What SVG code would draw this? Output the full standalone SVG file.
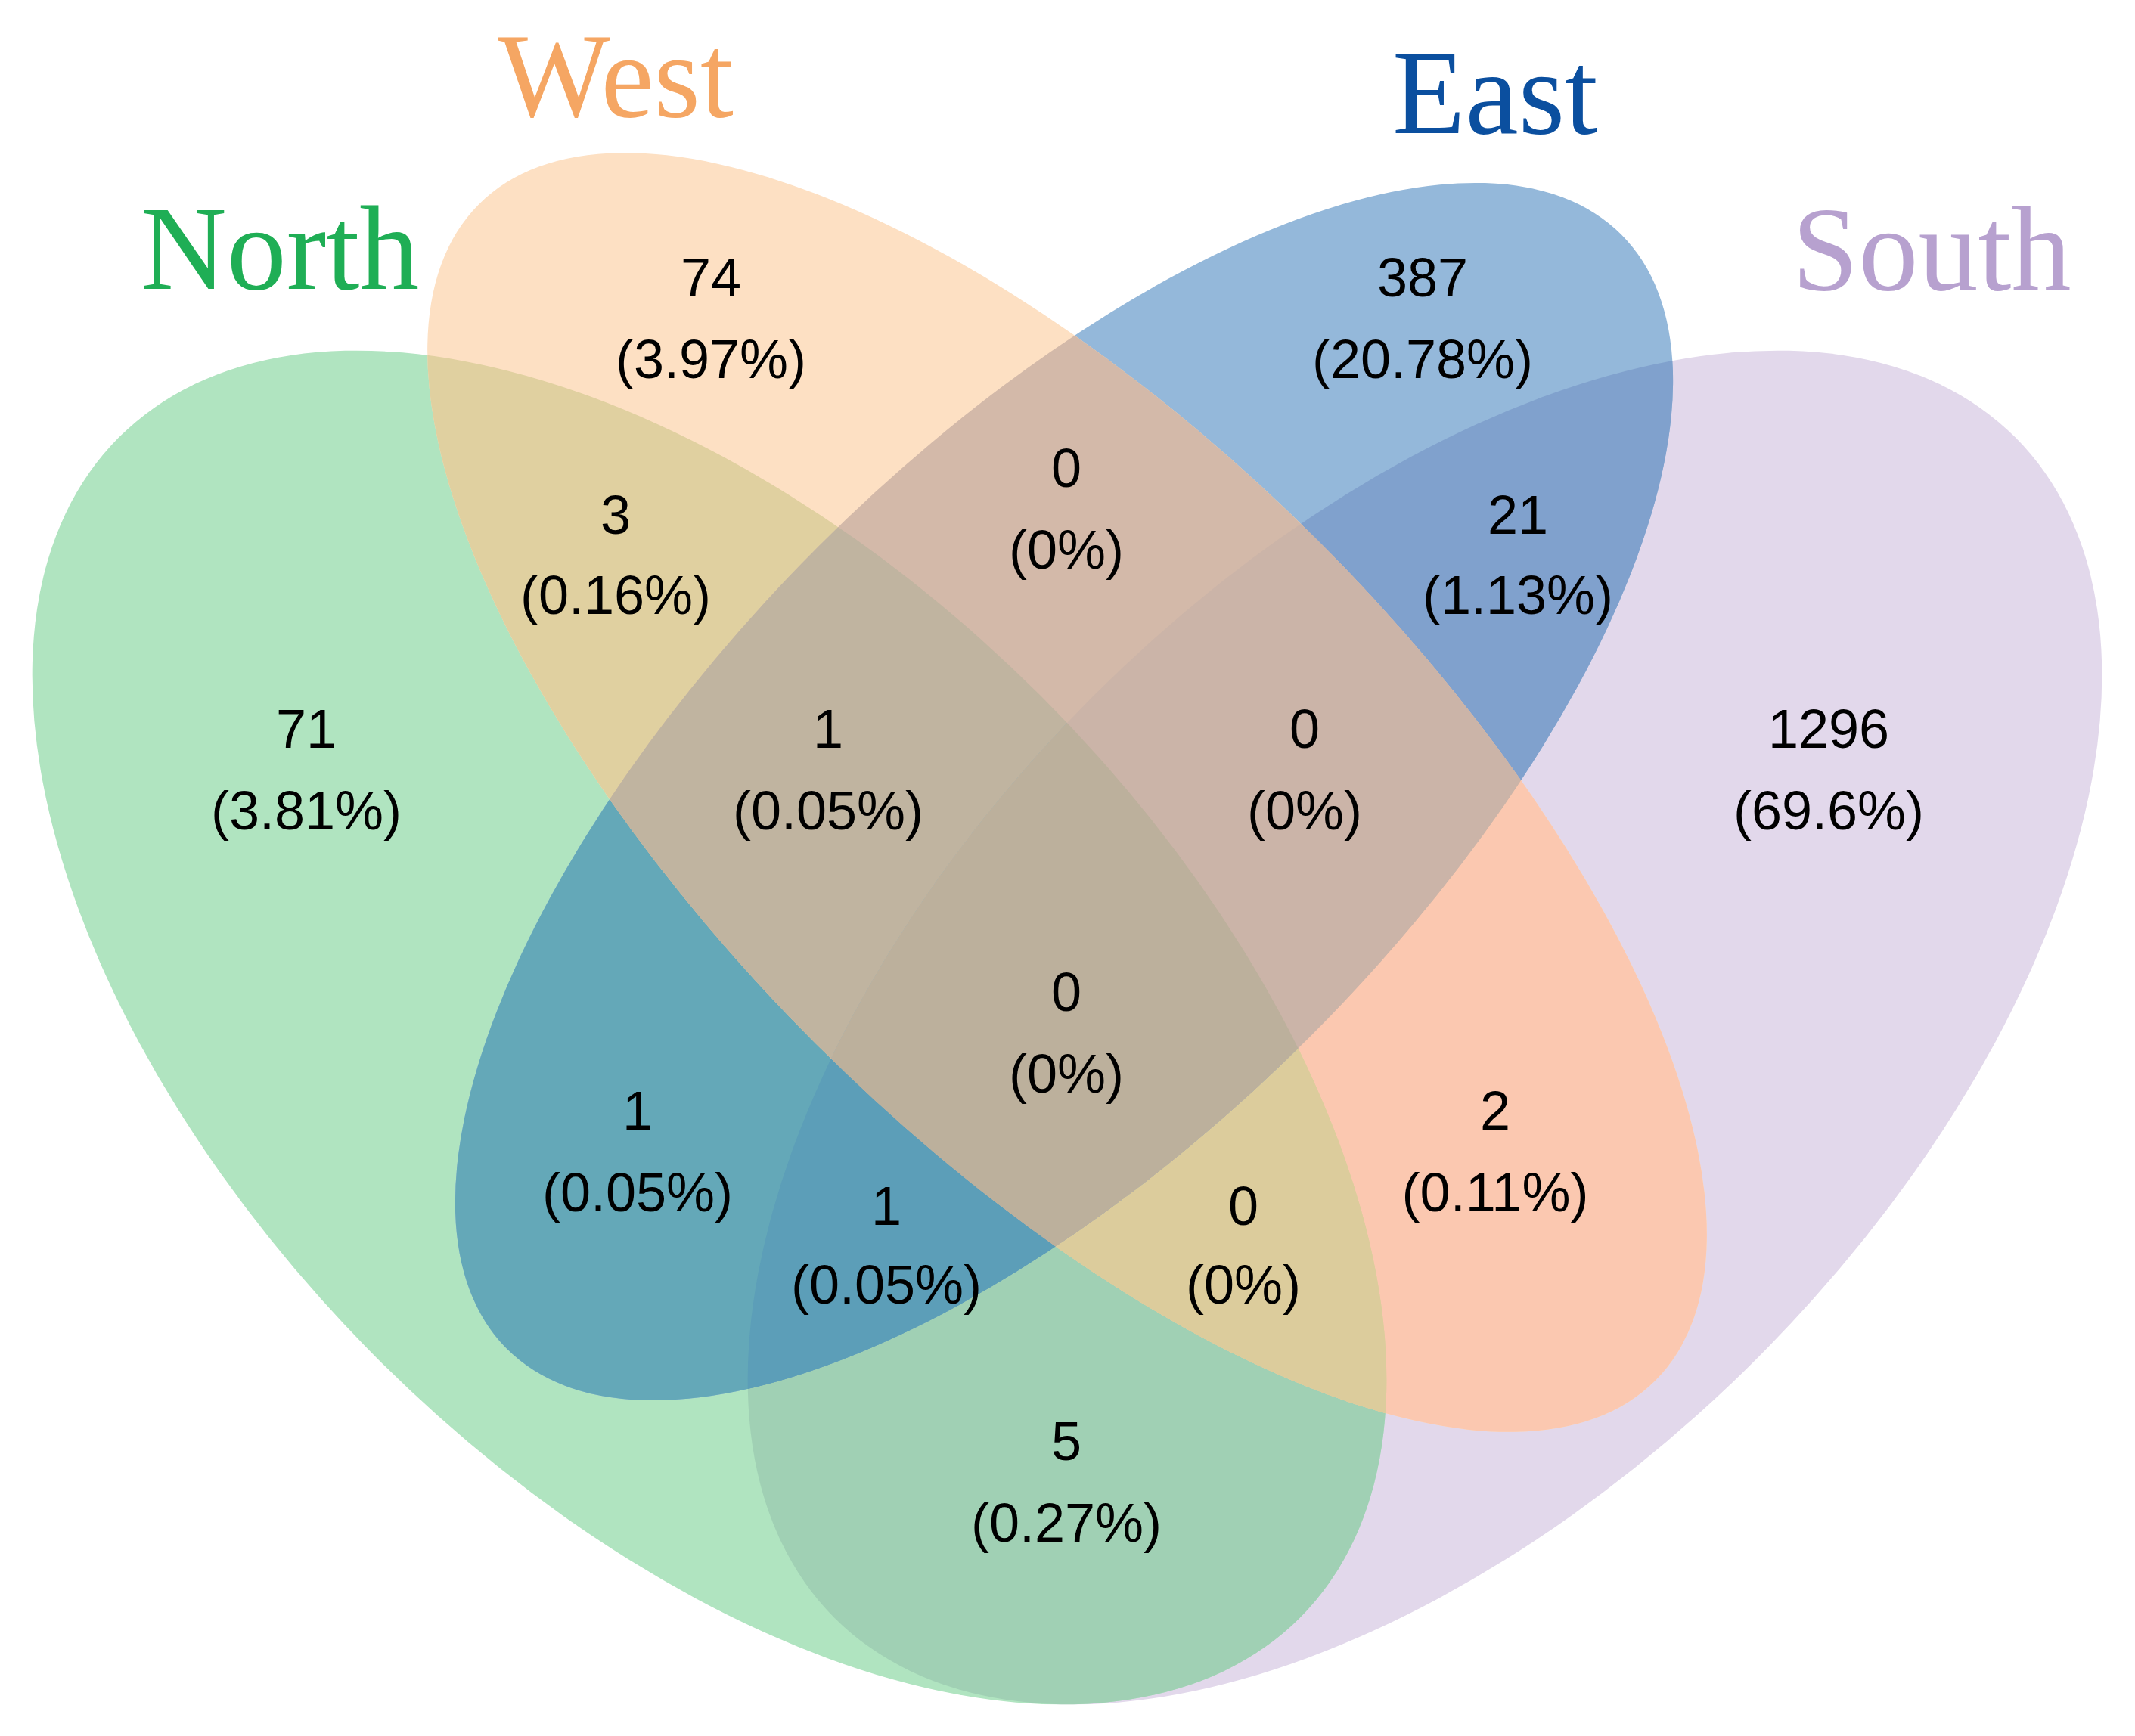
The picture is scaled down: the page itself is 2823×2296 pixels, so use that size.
<svg xmlns="http://www.w3.org/2000/svg" xmlns:xlink="http://www.w3.org/1999/xlink" width="2823" height="2296" viewBox="0 0 2823 2296">
<style>
.ttl{font-family:"Liberation Serif","Times New Roman",serif;font-size:158px;text-anchor:middle}
.lbl{font-family:"Liberation Sans",Arial,sans-serif;font-size:72px;text-anchor:middle;fill:#000}
</style>
<defs>
<ellipse id="eS" cx="1884" cy="1359" rx="1104" ry="620" transform="rotate(-45 1884 1359)"/>
<ellipse id="eN" cx="938" cy="1359" rx="1104" ry="620" transform="rotate(45 938 1359)"/>
<ellipse id="eE" cx="1407" cy="1047" rx="1042" ry="459" transform="rotate(-45 1407 1047)"/>
<ellipse id="eW" cx="1411" cy="1048" rx="1100" ry="470" transform="rotate(45 1411 1048)"/>
<clipPath id="cS"><ellipse cx="1884" cy="1359" rx="1104" ry="620" transform="rotate(-45 1884 1359)"/></clipPath>
<clipPath id="cN"><ellipse cx="938" cy="1359" rx="1104" ry="620" transform="rotate(45 938 1359)"/></clipPath>
<clipPath id="cE"><ellipse cx="1407" cy="1047" rx="1042" ry="459" transform="rotate(-45 1407 1047)"/></clipPath>
<clipPath id="cW"><ellipse cx="1411" cy="1048" rx="1100" ry="470" transform="rotate(45 1411 1048)"/></clipPath>
</defs>
<rect width="2823" height="2296" fill="#fff"/>
<g id="south"><use xlink:href="#eS" href="#eS" fill="#e2d8eb"/></g>
<g id="north"><use xlink:href="#eN" href="#eN" fill="#b0e4c0"/></g>
<g id="east"><use xlink:href="#eE" href="#eE" fill="#94b8da"/></g>
<g id="west"><use xlink:href="#eW" href="#eW" fill="#fde0c3"/></g>
<g id="overlaps">
<g clip-path="url(#cN)"><use xlink:href="#eS" href="#eS" fill="#a0d0b4"/></g>
<g clip-path="url(#cE)"><use xlink:href="#eS" href="#eS" fill="#80a1cd"/></g>
<g clip-path="url(#cW)"><use xlink:href="#eS" href="#eS" fill="#fbc8b0"/></g>
<g clip-path="url(#cN)"><use xlink:href="#eE" href="#eE" fill="#64a8b8"/></g>
<g clip-path="url(#cN)"><use xlink:href="#eW" href="#eW" fill="#e0d0a0"/></g>
<g clip-path="url(#cE)"><use xlink:href="#eW" href="#eW" fill="#d3b9a9"/></g>
<g clip-path="url(#cN)"><g clip-path="url(#cW)"><use xlink:href="#eE" href="#eE" fill="#c0b4a0"/></g></g>
<g clip-path="url(#cN)"><g clip-path="url(#cW)"><use xlink:href="#eS" href="#eS" fill="#dccc9c"/></g></g>
<g clip-path="url(#cN)"><g clip-path="url(#cE)"><use xlink:href="#eS" href="#eS" fill="#5c9eb8"/></g></g>
<g clip-path="url(#cW)"><g clip-path="url(#cE)"><use xlink:href="#eS" href="#eS" fill="#cbb4a8"/></g></g>
<g clip-path="url(#cN)"><g clip-path="url(#cW)"><g clip-path="url(#cE)"><use xlink:href="#eS" href="#eS" fill="#bcb09c"/></g></g></g>
</g>
<g id="titles">
<text class="ttl" x="370" y="382" fill="#1fae55">North</text>
<text class="ttl" x="814" y="154" fill="#f5a663">West</text>
<text class="ttl" x="1977" y="176" fill="#0b4f9f">East</text>
<text class="ttl" x="2554" y="383" fill="#b7a1cf">South</text>
</g>
<g id="labels">
<text class="lbl" x="940" y="392">74</text><text class="lbl" x="940" y="500">(3.97%)</text>
<text class="lbl" x="1881" y="392">387</text><text class="lbl" x="1881" y="500">(20.78%)</text>
<text class="lbl" x="814" y="706">3</text><text class="lbl" x="814" y="812">(0.16%)</text>
<text class="lbl" x="1410" y="644">0</text><text class="lbl" x="1410" y="752">(0%)</text>
<text class="lbl" x="2007" y="706">21</text><text class="lbl" x="2007" y="812">(1.13%)</text>
<text class="lbl" x="405" y="989">71</text><text class="lbl" x="405" y="1097">(3.81%)</text>
<text class="lbl" x="1095" y="989">1</text><text class="lbl" x="1095" y="1097">(0.05%)</text>
<text class="lbl" x="1725" y="989">0</text><text class="lbl" x="1725" y="1097">(0%)</text>
<text class="lbl" x="2418" y="989">1296</text><text class="lbl" x="2418" y="1097">(69.6%)</text>
<text class="lbl" x="1410" y="1337">0</text><text class="lbl" x="1410" y="1445">(0%)</text>
<text class="lbl" x="843" y="1494">1</text><text class="lbl" x="843" y="1602">(0.05%)</text>
<text class="lbl" x="1977" y="1494">2</text><text class="lbl" x="1977" y="1602">(0.11%)</text>
<text class="lbl" x="1172" y="1620">1</text><text class="lbl" x="1172" y="1724">(0.05%)</text>
<text class="lbl" x="1644" y="1620">0</text><text class="lbl" x="1644" y="1724">(0%)</text>
<text class="lbl" x="1410" y="1931">5</text><text class="lbl" x="1410" y="2039">(0.27%)</text>
</g>
</svg>
